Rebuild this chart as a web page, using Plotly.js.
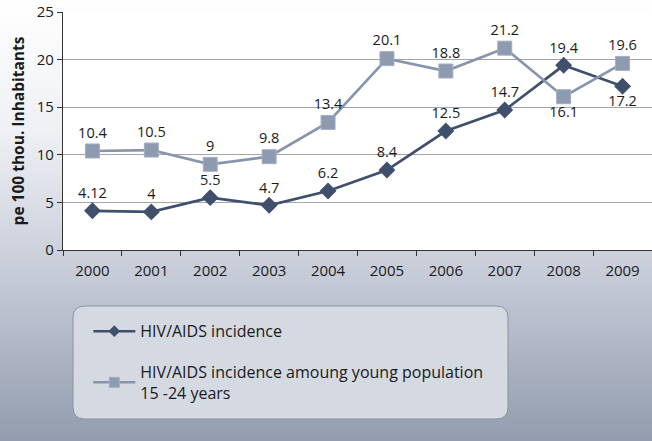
<!DOCTYPE html>
<html>
<head>
<meta charset="utf-8">
<script src="https://cdn.plot.ly/plotly-3.0.1.min.js"></script>
<style>
  html, body { margin: 0; padding: 0; }
  #chart {
    width: 652px; height: 441px;
    background: linear-gradient(to bottom, #ffffff 0%, #eef0f4 30%, #c9ceda 60%, #929cae 100%);
  }
</style>
</head>
<body>
<div id="chart"></div>
<script>
// Yearly incidence per 100 thousand inhabitants
const years = ['2000', '2001', '2002', '2003', '2004', '2005', '2006', '2007', '2008', '2009'];
const incidenceAll = [4.12, 4, 5.5, 4.7, 6.2, 8.4, 12.5, 14.7, 19.4, 17.2];
const incidenceYoung = [10.4, 10.5, 9, 9.8, 13.4, 20.1, 18.8, 21.2, 16.1, 19.6];
const labelsAll = ['4.12', '4', '5.5', '4.7', '6.2', '8.4', '12.5', '14.7', '19.4', '17.2'];
const labelsYoung = ['10.4', '10.5', '9', '9.8', '13.4', '20.1', '18.8', '21.2', '16.1', '19.6'];
const posAll = ['top center', 'top center', 'top center', 'top center', 'top center', 'top center', 'top center', 'top center', 'top center', 'bottom center'];
const posYoung = ['top center', 'top center', 'top center', 'top center', 'top center', 'top center', 'top center', 'top center', 'bottom center', 'top center'];
const nameAll = 'HIV/AIDS incidence';
const nameYoung = 'HIV/AIDS incidence amoung young population<br>15 -24 years';

const font = '"Open Sans", "Noto Sans", sans-serif';
const darkColor = '#3f4f6c';
const lightColor = '#8795ac';

const traces = [
  {
    x: years, y: incidenceAll, text: labelsAll, textposition: posAll,
    name: nameAll, showlegend: false,
    type: 'scatter', mode: 'lines+markers+text',
    line: { color: darkColor, width: 2.7 },
    marker: { symbol: 'diamond', size: 13, color: darkColor },
    textfont: { family: font, size: 14.5, color: '#1a1a1a' },
    cliponaxis: false
  },
  {
    x: years, y: incidenceYoung, text: labelsYoung, textposition: posYoung,
    name: nameYoung, showlegend: false,
    type: 'scatter', mode: 'lines+markers+text',
    line: { color: lightColor, width: 2.7 },
    marker: { symbol: 'square', size: 14, color: '#8d9ab0', line: { color: '#a3aec1', width: 1 } },
    textfont: { family: font, size: 14.5, color: '#1a1a1a' },
    cliponaxis: false
  },
  // legend keys with smaller symbols
  {
    x: [null], y: [null], name: nameAll, legendgroup: 'a',
    type: 'scatter', mode: 'lines+markers',
    line: { color: darkColor, width: 2.5 },
    marker: { symbol: 'diamond', size: 9, color: darkColor }
  },
  {
    x: [null], y: [null], name: nameYoung, legendgroup: 'b',
    type: 'scatter', mode: 'lines+markers',
    line: { color: lightColor, width: 2.5 },
    marker: { symbol: 'square', size: 10, color: '#8d9ab0', line: { color: '#a3aec1', width: 1 } }
  }
];

// legend frame with rounded corners (paper coordinates)
const x0 = 0.017, x1 = 0.7555, y0 = -0.71, y1 = -0.235, rx = 0.02, ry = 0.05;
const framePath =
  `M ${x0 + rx} ${y1} L ${x1 - rx} ${y1} Q ${x1} ${y1} ${x1} ${y1 - ry} ` +
  `L ${x1} ${y0 + ry} Q ${x1} ${y0} ${x1 - rx} ${y0} ` +
  `L ${x0 + rx} ${y0} Q ${x0} ${y0} ${x0} ${y0 + ry} ` +
  `L ${x0} ${y1 - ry} Q ${x0} ${y1} ${x0 + rx} ${y1} Z`;

const layout = {
  width: 652, height: 441,
  margin: { l: 63, r: 0, t: 12, b: 191 },
  paper_bgcolor: 'rgba(0,0,0,0)',
  plot_bgcolor: '#ffffff',
  font: { family: font, size: 15, color: '#1a1a1a' },
  showlegend: true,
  legend: {
    x: 0.043, y: -0.27, xanchor: 'left', yanchor: 'top',
    bgcolor: 'rgba(0,0,0,0)', borderwidth: 0,
    itemwidth: 42,
    font: { family: font, size: 16, color: '#1a1a1a' },
    tracegroupgap: 17
  },
  xaxis: {
    type: 'category', range: [-0.5, 9.5],
    showline: true, linecolor: '#333333', linewidth: 1.2,
    ticks: 'outside', tickson: 'boundaries', ticklen: 5, tickcolor: '#333333',
    ticklabelstandoff: 7,
    tickfont: { family: font, size: 15, color: '#1a1a1a' },
    showgrid: false, zeroline: false, fixedrange: true
  },
  yaxis: {
    range: [0, 25], dtick: 5,
    showline: true, linecolor: '#333333', linewidth: 1.2,
    ticks: 'outside', ticklen: 5, tickcolor: '#333333',
    tickfont: { family: font, size: 15, color: '#1a1a1a' },
    showgrid: true, gridcolor: '#a5a5a5', gridwidth: 1,
    zeroline: false,
    title: { text: '<b>pe 100 thou. Inhabitants</b>', font: { family: font, size: 15.5, color: '#1a1a1a' }, standoff: 8 }
  },
  shapes: [
    {
      type: 'path', xref: 'paper', yref: 'paper', path: framePath,
      fillcolor: '#d4d9e2', line: { color: '#8a93a6', width: 1 }, layer: 'below'
    }
  ]
};

Plotly.newPlot('chart', traces, layout, { displayModeBar: false, staticPlot: true });
</script>
</body>
</html>
